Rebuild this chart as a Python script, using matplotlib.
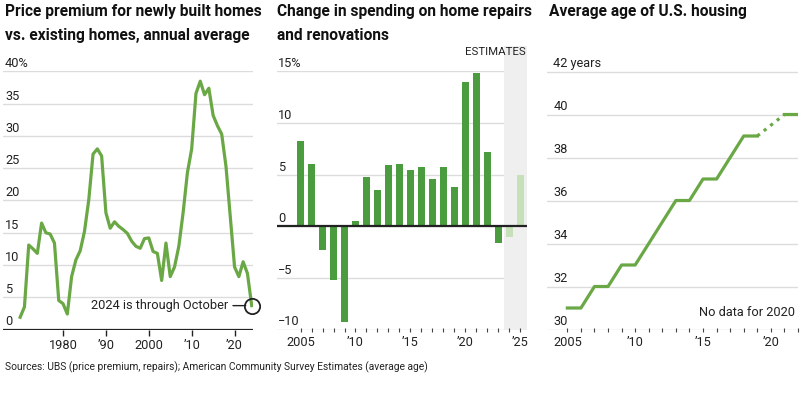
import numpy as np
import matplotlib.pyplot as plt
from matplotlib.patches import Rectangle
import matplotlib.transforms as mtransforms

plt.rcParams['font.family'] = ['Roboto', 'DejaVu Sans']

# --- data ---
premium_years = list(range(1970, 2025))
premium = [1.9, 3.5, 13.1, 12.5, 11.8, 16.5, 15.0, 14.8, 13.4, 4.5,
           4.0, 2.4, 8.2, 10.8, 12.2, 15.2, 20.1, 27.2, 28.0, 26.9,
           18.1, 15.7, 16.7, 16.0, 15.5, 14.9, 13.7, 12.9, 12.6, 14.1,
           14.2, 12.1, 11.8, 7.6, 13.4, 8.2, 9.7, 12.9, 18.1, 24.3,
           28.0, 36.6, 38.5, 36.4, 37.4, 33.2, 31.6, 30.3, 25.3, 17.5,
           9.7, 8.2, 10.5, 8.7, 3.7]
premium_ticks = [1980, 1990, 2000, 2010, 2020]
premium_ticklabels = ['1980', '\u201990', '2000', '\u201910', '\u201920']
premium_yticks = [0, 5, 10, 15, 20, 25, 30, 35, 40]
premium_ylabels = ['0', '5', '10', '15', '20', '25', '30', '35', '40%']

repair_years = list(range(2005, 2026))
repairs = [8.3, 6.0, -2.3, -5.2, -9.3, 0.5, 4.8, 3.5, 5.9, 6.0,
           5.5, 5.7, 4.6, 5.7, 3.8, 14.0, 14.9, 7.2, -1.6, -1.0, 5.0]
repair_estimate = [False] * 19 + [True, True]
repair_ticks = [2005, 2010, 2015, 2020, 2025]
repair_ticklabels = ['2005', '\u201910', '\u201915', '\u201920', '\u201925']
repair_yticks = [-10, -5, 0, 5, 10, 15]
repair_ylabels = ['\u221210', '\u22125', '0', '5', '10', '15%']

age_years = list(range(2005, 2023))
age = [31, 31, 32, 32, 33, 33, 34, 35, 36, 36,
       37, 37, 38, 39, 39, np.nan, 40, 40]
age_ticks = [2005, 2010, 2015, 2020]
age_ticklabels = ['2005', '\u201910', '\u201915', '\u201920']
age_yticks = [30, 32, 34, 36, 38, 40, 42]
age_ylabels = ['30', '32', '34', '36', '38', '40', '42 years']

line_green = '#6aa845'
bar_green = '#4b9b3f'
light_green = '#c6e0b8'
grid_col = '#dcdcdc'
txt_col = '#222222'
fs = 9.2

fig = plt.figure(figsize=(8.11, 3.98), dpi=100)
W, H = 811, 398
bot = (H - 329.5) / H
hgt = (329.5 - 71.5) / H
ax1 = fig.add_axes([3 / W, bot, 250 / W, hgt])
ax2 = fig.add_axes([277 / W, bot, 250 / W, hgt])
ax3 = fig.add_axes([547 / W, bot, 251 / W, hgt])


def style(ax, yticks, ylabels, xoff):
    for s in ax.spines.values():
        s.set_visible(False)
    ax.set_yticks([])
    for v, lab in zip(yticks, ylabels):
        ax.axhline(v, color=grid_col, lw=1, zorder=0)
        ax.annotate(lab, xy=(0, v), xycoords=('axes fraction', 'data'),
                    xytext=(xoff, 5.5), textcoords='offset points',
                    ha='left', va='center', fontsize=fs, color=txt_col)
    ax.tick_params(axis='x', labelsize=fs, colors=txt_col, pad=3)


# panel 1
style(ax1, premium_yticks, premium_ylabels, 1.5)
ax1.plot(premium_years, premium, color=line_green, lw=2.3, zorder=3,
         solid_joinstyle='round')
ax1.set_xlim(1966.0, 2024.3)
ax1.set_ylim(0, 40)
ax1.axhline(0, color=txt_col, lw=1.6, zorder=4)
ax1.set_xticks(premium_ticks)
ax1.set_xticklabels(premium_ticklabels)
ax1.tick_params(axis='x', length=4, width=1, direction='out')
ax1.plot(premium_years[-1], premium[-1], 'o', ms=11, mfc='none', mec=txt_col,
         mew=1.3, clip_on=False, zorder=5)
ax1.annotate('2024 is through October', xy=(premium_years[-1], premium[-1]),
             xytext=(-17, 0), textcoords='offset points', ha='right', va='center',
             fontsize=fs, color=txt_col,
             arrowprops=dict(arrowstyle='-', color=txt_col, lw=1,
                             shrinkA=1.5, shrinkB=4.3))

# panel 2
style(ax2, repair_yticks, repair_ylabels, 1.0)
ax2.set_xlim(2002.86, 2025.6)
ax2.set_ylim(-10, 15)
band = Rectangle((2023.55, 0), 2025.6 - 2023.55, 1.10,
                 transform=mtransforms.blended_transform_factory(ax2.transData, ax2.transAxes),
                 color='#efefef', lw=0, zorder=0, clip_on=False)
ax2.add_patch(band)
cols = [light_green if e else bar_green for e in repair_estimate]
ax2.bar(repair_years, repairs, width=0.68, color=cols, zorder=2)
ax2.axhline(0, color=txt_col, lw=1.6, zorder=4)
ax2.set_xticks(repair_ticks)
ax2.set_xticklabels(repair_ticklabels)
ax2.set_xticks(repair_years, minor=True)
ax2.tick_params(axis='x', which='both', length=3, width=0.8, direction='inout',
                color='#444444')
ax2.text(2025.5, 16.9, 'ESTIMATES', ha='right', va='center', fontsize=8.2,
         color=txt_col)

# panel 3
style(ax3, age_yticks, age_ylabels, 4.5)
ax3.set_xlim(2003.5, 2022.0)
ax3.set_ylim(30, 42)
ax3.plot(age_years, age, color=line_green, lw=2.3, zorder=3)
i0 = age_years.index(2019)
i1 = age_years.index(2021)
ax3.plot([age_years[i0], age_years[i1]], [age[i0], age[i1]], color=line_green,
         lw=2.3, linestyle=(0, (1.0, 1.6)), zorder=3)
ax3.set_xticks(age_ticks)
ax3.set_xticklabels(age_ticklabels)
ax3.set_xticks(age_years, minor=True)
ax3.tick_params(axis='x', which='both', length=3, width=0.8, direction='inout',
                color='#444444')
ax3.text(2021.8, 30.8, 'No data for 2020', ha='right', va='center', fontsize=fs,
         color=txt_col)

# titles
tkw = dict(fontsize=11.2, fontweight='bold', va='top', ha='left', color='#111111',
           linespacing=1.75)
fig.text(5 / W, 1 - 4 / H, 'Price premium for newly built homes\nvs. existing homes, annual average', **tkw)
fig.text(277 / W, 1 - 4 / H, 'Change in spending on home repairs\nand renovations', **tkw)
fig.text(549 / W, 1 - 4 / H, 'Average age of U.S. housing', **tkw)

fig.text(5 / W, 1 - 367 / H, 'Sources: UBS (price premium, repairs); American Community Survey Estimates (average age)',
         fontsize=7.4, va='center', ha='left', color=txt_col)

fig.savefig('out.png', dpi=100)
